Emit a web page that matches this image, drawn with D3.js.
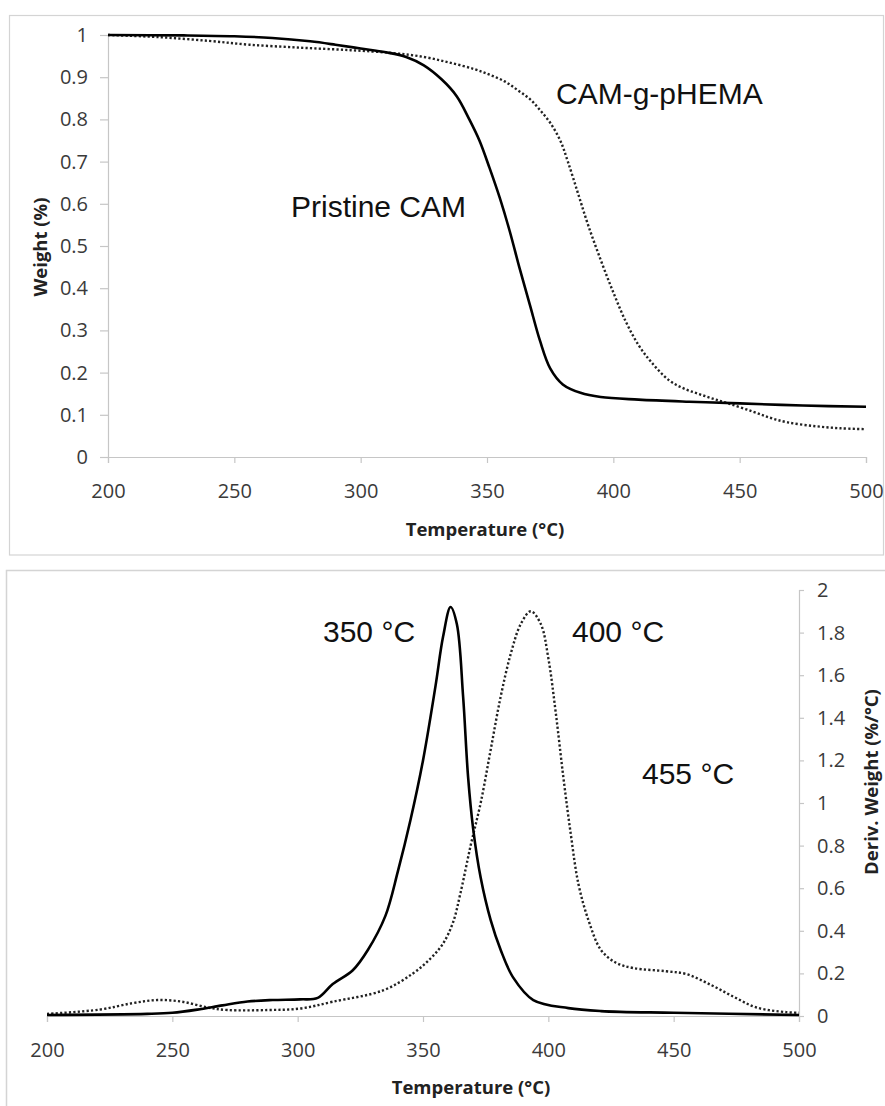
<!DOCTYPE html>
<html><head><meta charset="utf-8">
<script src="https://cdn.jsdelivr.net/npm/d3@7"></script>
<style>body{margin:0;background:#fff}svg{display:block}</style>
</head><body>
<svg id="c" width="885" height="1106"></svg>
<script>
// ---------- DATA ----------
const tempTicks = [200, 250, 300, 350, 400, 450, 500];
const weightTicks = [0, 0.1, 0.2, 0.3, 0.4, 0.5, 0.6, 0.7, 0.8, 0.9, 1];
const derivTicks = [0, 0.2, 0.4, 0.6, 0.8, 1, 1.2, 1.4, 1.6, 1.8, 2];

// TGA weight, Pristine CAM (solid)
const pristineWeight = [
  [200,1.0],[230,0.999],[250,0.997],[265,0.993],[280,0.985],[290,0.977],[300,0.968],
  [310,0.959],[318,0.948],[325,0.928],[332,0.895],[338,0.855],[343,0.80],[347,0.75],[351,0.685],
  [355,0.615],[359,0.535],[363,0.445],[367,0.36],[371,0.275],[375,0.21],[380,0.172],
  [387,0.152],[395,0.142],[410,0.136],[430,0.131],[450,0.127],[475,0.122],[500,0.119]
];
// TGA weight, CAM-g-pHEMA (dotted)
const graftWeight = [
  [200,1.0],[220,0.995],[240,0.986],[256,0.977],[276,0.97],[296,0.964],[313,0.957],
  [325,0.948],[335,0.935],[345,0.919],[351,0.906],[357,0.89],[362,0.87],[367,0.848],
  [371,0.822],[375,0.792],[379,0.75],[382,0.70],[386,0.625],[390,0.55],[395,0.467],
  [400,0.39],[405,0.32],[410,0.265],[415,0.225],[422,0.182],[428,0.162],[434,0.149],
  [440,0.137],[446,0.126],[455,0.108],[462,0.093],[469,0.082],[480,0.073],[490,0.068],[500,0.066]
];
// DTG, Pristine CAM (solid)
const pristineDeriv = [
  [200,0.005],[240,0.01],[250,0.015],[260,0.03],[270,0.05],[280,0.068],[290,0.075],
  [301,0.078],[308,0.085],[314,0.15],[322,0.215],[328,0.31],[335,0.47],[340,0.68],
  [345,0.92],[350,1.2],[355,1.55],[358,1.78],[361,1.92],[363.5,1.84],[366,1.5],
  [368,1.12],[370,0.88],[373,0.65],[377,0.45],[381,0.31],[386,0.18],[394,0.075],
  [408,0.037],[421,0.023],[450,0.015],[500,0.005]
];
// DTG, CAM-g-pHEMA (dotted)
const graftDeriv = [
  [200,0.01],[221,0.03],[234,0.06],[244,0.075],[254,0.067],[264,0.04],[272,0.028],
  [288,0.028],[301,0.035],[314,0.067],[334,0.12],[346,0.2],[353,0.27],[358,0.34],[362,0.44],
  [365,0.58],[369,0.8],[373,1.0],[377,1.25],[381,1.5],[385,1.7],[389,1.84],[393,1.9],
  [397,1.84],[400,1.68],[403,1.42],[406,1.12],[409,0.85],[412,0.62],[416,0.45],
  [421,0.31],[427,0.25],[434,0.225],[447,0.21],[455,0.197],[465,0.145],[474,0.09],
  [483,0.04],[495,0.018],[500,0.015]
];

// ---------- DRAW ----------
const svg = d3.select("#c");
const axisColor = "#c6c6c6";
const tickFont = "'Open Sans', sans-serif";
const annFont = "'Liberation Sans', Arial, sans-serif";

// panel frames
svg.append("rect").attr("x",9.5).attr("y",15.5).attr("width",874).attr("height",539.5)
  .attr("fill","none").attr("stroke","#d4d4d4").attr("stroke-width",1.2);
svg.append("rect").attr("x",6.5).attr("y",570.5).attr("width",900).attr("height",560)
  .attr("fill","none").attr("stroke","#d4d4d4").attr("stroke-width",1.5);

function styleAxis(g){
  g.attr("font-size",null).attr("font-family",null);
  g.select(".domain").attr("stroke",axisColor).attr("stroke-width",1.2);
  g.selectAll(".tick line").attr("stroke",axisColor).attr("stroke-width",1.2);
  g.selectAll(".tick text").attr("fill","#3a3a3a").style("font-family",tickFont).style("font-size","20px");
}

// ===== TOP: weight =====
const x1 = d3.scaleLinear().domain([200,500]).range([108,866]);
const y1 = d3.scaleLinear().domain([0,1]).range([457,35]);

const gx1 = svg.append("g").attr("transform","translate(0,457)")
  .call(d3.axisBottom(x1).tickValues(tempTicks).tickSize(6).tickPadding(21).tickFormat(d3.format("d")));
styleAxis(gx1);
const gy1 = svg.append("g").attr("transform","translate(108,0)")
  .call(d3.axisLeft(y1).tickValues(weightTicks).tickSize(8).tickPadding(12).tickFormat(d=>d3.format("")(+d.toFixed(1))));
styleAxis(gy1);

const line1 = d3.line().x(d=>x1(d[0])).y(d=>y1(d[1])).curve(d3.curveCatmullRom.alpha(0.5));
svg.append("path").datum(graftWeight).attr("d",line1).attr("fill","none")
  .attr("stroke","#222").attr("stroke-width",2.4).attr("stroke-dasharray","2.2,2.2");
svg.append("path").datum(pristineWeight).attr("d",line1).attr("fill","none")
  .attr("stroke","#000").attr("stroke-width",2.6);

svg.append("text").attr("x",485).attr("y",536).attr("text-anchor","middle")
  .style("font-family",tickFont).style("font-weight","bold").style("font-size","18.5px").attr("fill","#222")
  .text("Temperature (°C)");
svg.append("text").attr("transform","translate(47,247) rotate(-90)").attr("text-anchor","middle")
  .style("font-family",tickFont).style("font-weight","bold").style("font-size","18.5px").attr("fill","#222")
  .text("Weight (%)");

svg.append("text").attr("x",556).attr("y",104).style("font-family",annFont).style("font-size","30px")
  .attr("fill","#111").text("CAM-g-pHEMA");
svg.append("text").attr("x",291).attr("y",217).style("font-family",annFont).style("font-size","30px")
  .attr("fill","#111").text("Pristine CAM");

// ===== BOTTOM: derivative =====
const x2 = d3.scaleLinear().domain([200,500]).range([47,799]);
const y2 = d3.scaleLinear().domain([0,2]).range([1016,590]);

const gx2 = svg.append("g").attr("transform","translate(0,1016)")
  .call(d3.axisBottom(x2).tickValues(tempTicks).tickSize(6).tickPadding(21).tickFormat(d3.format("d")));
styleAxis(gx2);
const gy2 = svg.append("g").attr("transform","translate(799,0)")
  .call(d3.axisRight(y2).tickValues(derivTicks).tickSize(5).tickPadding(13).tickFormat(d=>d3.format("")(+d.toFixed(1))));
styleAxis(gy2);

const line2 = d3.line().x(d=>x2(d[0])).y(d=>y2(d[1])).curve(d3.curveCatmullRom.alpha(0.5));
svg.append("path").datum(graftDeriv).attr("d",line2).attr("fill","none")
  .attr("stroke","#222").attr("stroke-width",2.4).attr("stroke-dasharray","2.2,2.2");
svg.append("path").datum(pristineDeriv).attr("d",line2).attr("fill","none")
  .attr("stroke","#000").attr("stroke-width",2.6);

svg.append("text").attr("x",471).attr("y",1094).attr("text-anchor","middle")
  .style("font-family",tickFont).style("font-weight","bold").style("font-size","18.5px").attr("fill","#222")
  .text("Temperature (°C)");
svg.append("text").attr("transform","translate(878,782) rotate(-90)").attr("text-anchor","middle")
  .style("font-family",tickFont).style("font-weight","bold").style("font-size","18.5px").attr("fill","#222")
  .text("Deriv. Weight (%/°C)");

svg.append("text").attr("x",323).attr("y",642).style("font-family",annFont).style("font-size","30px")
  .attr("fill","#111").text("350 °C");
svg.append("text").attr("x",572).attr("y",642).style("font-family",annFont).style("font-size","30px")
  .attr("fill","#111").text("400 °C");
svg.append("text").attr("x",642).attr("y",784).style("font-family",annFont).style("font-size","30px")
  .attr("fill","#111").text("455 °C");
</script>
</body></html>
